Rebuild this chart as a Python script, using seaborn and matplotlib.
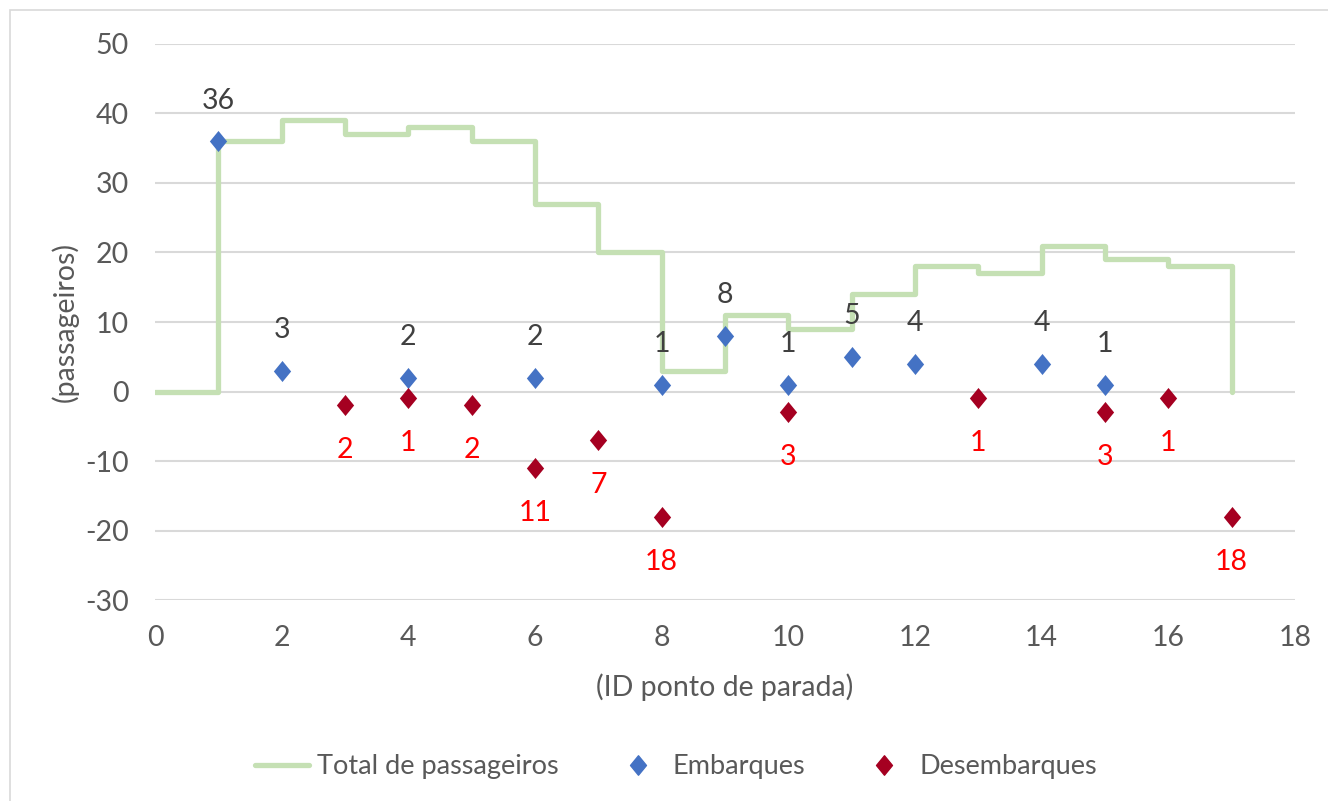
import numpy as np
import pandas as pd
import matplotlib
matplotlib.use("Agg")
import matplotlib.pyplot as plt
import seaborn as sns
from matplotlib.patches import Rectangle
from matplotlib.lines import Line2D
from matplotlib.path import Path

# dados
paradas = list(range(0, 18))
total_passageiros = [0, 36, 39, 37, 38, 36, 27, 20, 3, 11, 9, 14, 18, 17, 21, 19, 18, 0]

emb_x = [1, 2, 4, 6, 8, 9, 10, 11, 12, 14, 15]
emb_y = [36, 3, 2, 2, 1, 8, 1, 5, 4, 4, 1]

des_x = [3, 4, 5, 6, 7, 8, 10, 13, 15, 16, 17]
des_y = [-2, -1, -2, -11, -7, -18, -3, -1, -3, -1, -18]

COR_LINHA = "#c5e0b4"
COR_EMB = "#4472c4"
COR_DES = "#a50021"
COR_TEXTO = "#595959"
FS = 20.5

# losango um pouco mais alto que largo, como no Excel
losango = Path([(0, 1), (0.82, 0), (0, -1), (-0.82, 0), (0, 1)],
               [Path.MOVETO, Path.LINETO, Path.LINETO, Path.LINETO, Path.CLOSEPOLY])

sns.set_style("white")
plt.rcParams["font.family"] = ["Lato", "DejaVu Sans"]
plt.rcParams["axes.unicode_minus"] = False

fig = plt.figure(figsize=(13.28, 8.01), dpi=100)
ax = fig.add_axes([0.1167, 0.2509, 0.8584, 0.6942])

df_total = pd.DataFrame({"x": paradas, "y": total_passageiros})
df_emb = pd.DataFrame({"x": emb_x, "y": emb_y})
df_des = pd.DataFrame({"x": des_x, "y": des_y})

sns.lineplot(data=df_total, x="x", y="y", ax=ax, color=COR_LINHA, linewidth=3.8,
             drawstyle="steps-post", zorder=2)
sns.scatterplot(data=df_emb, x="x", y="y", ax=ax, color=COR_EMB, marker=losango,
                s=230, linewidth=0, zorder=3)
sns.scatterplot(data=df_des, x="x", y="y", ax=ax, color=COR_DES, marker=losango,
                s=230, linewidth=0, zorder=3)

# rótulos
for x, y in zip(emb_x, emb_y):
    ax.annotate(str(y), (x, y), xytext=(0, 20), textcoords="offset points",
                ha="center", va="bottom", fontsize=FS, color="#404040")
for x, y in zip(des_x, des_y):
    ax.annotate(str(-y), (x, y), xytext=(0, -23), textcoords="offset points",
                ha="center", va="top", fontsize=FS, color="#ff0000")

ax.set_xlim(0, 18)
ax.set_ylim(-30, 50)
ax.set_xticks(range(0, 19, 2))
ax.set_yticks(range(-30, 51, 10))
ax.tick_params(axis="x", labelsize=FS, labelcolor=COR_TEXTO, length=0, pad=18)
ax.tick_params(axis="y", labelsize=FS, labelcolor=COR_TEXTO, length=0, pad=19)
ax.grid(axis="y", color="#d9d9d9", linewidth=1.5)
ax.set_axisbelow(True)
for s in ax.spines.values():
    s.set_visible(False)

ax.set_xlabel("(ID ponto de parada)", fontsize=FS, color=COR_TEXTO, labelpad=16)
ax.set_ylabel("")
fig.text(0.049, 0.598, "(passageiros)", rotation=90, ha="center", va="center",
         fontsize=FS, color=COR_TEXTO)

handles = [
    Line2D([], [], color=COR_LINHA, linewidth=3.8),
    Line2D([], [], color=COR_EMB, marker=losango, linestyle="none", markersize=14),
    Line2D([], [], color=COR_DES, marker=losango, linestyle="none", markersize=14),
]
fig.legend(handles, ["Total de passageiros", "Embarques", "Desembarques"],
           loc="center", bbox_to_anchor=(0.509, 0.043), ncol=3, frameon=False,
           fontsize=19.5, labelcolor=COR_TEXTO, handlelength=2.0, columnspacing=1.9,
           handletextpad=0.3)

fig.patches.append(Rectangle((0.0075, -0.01), 1.1, 0.997, transform=fig.transFigure,
                             fill=False, edgecolor="#d9d9d9", linewidth=1.2))

fig.savefig("out.png", dpi=100)
